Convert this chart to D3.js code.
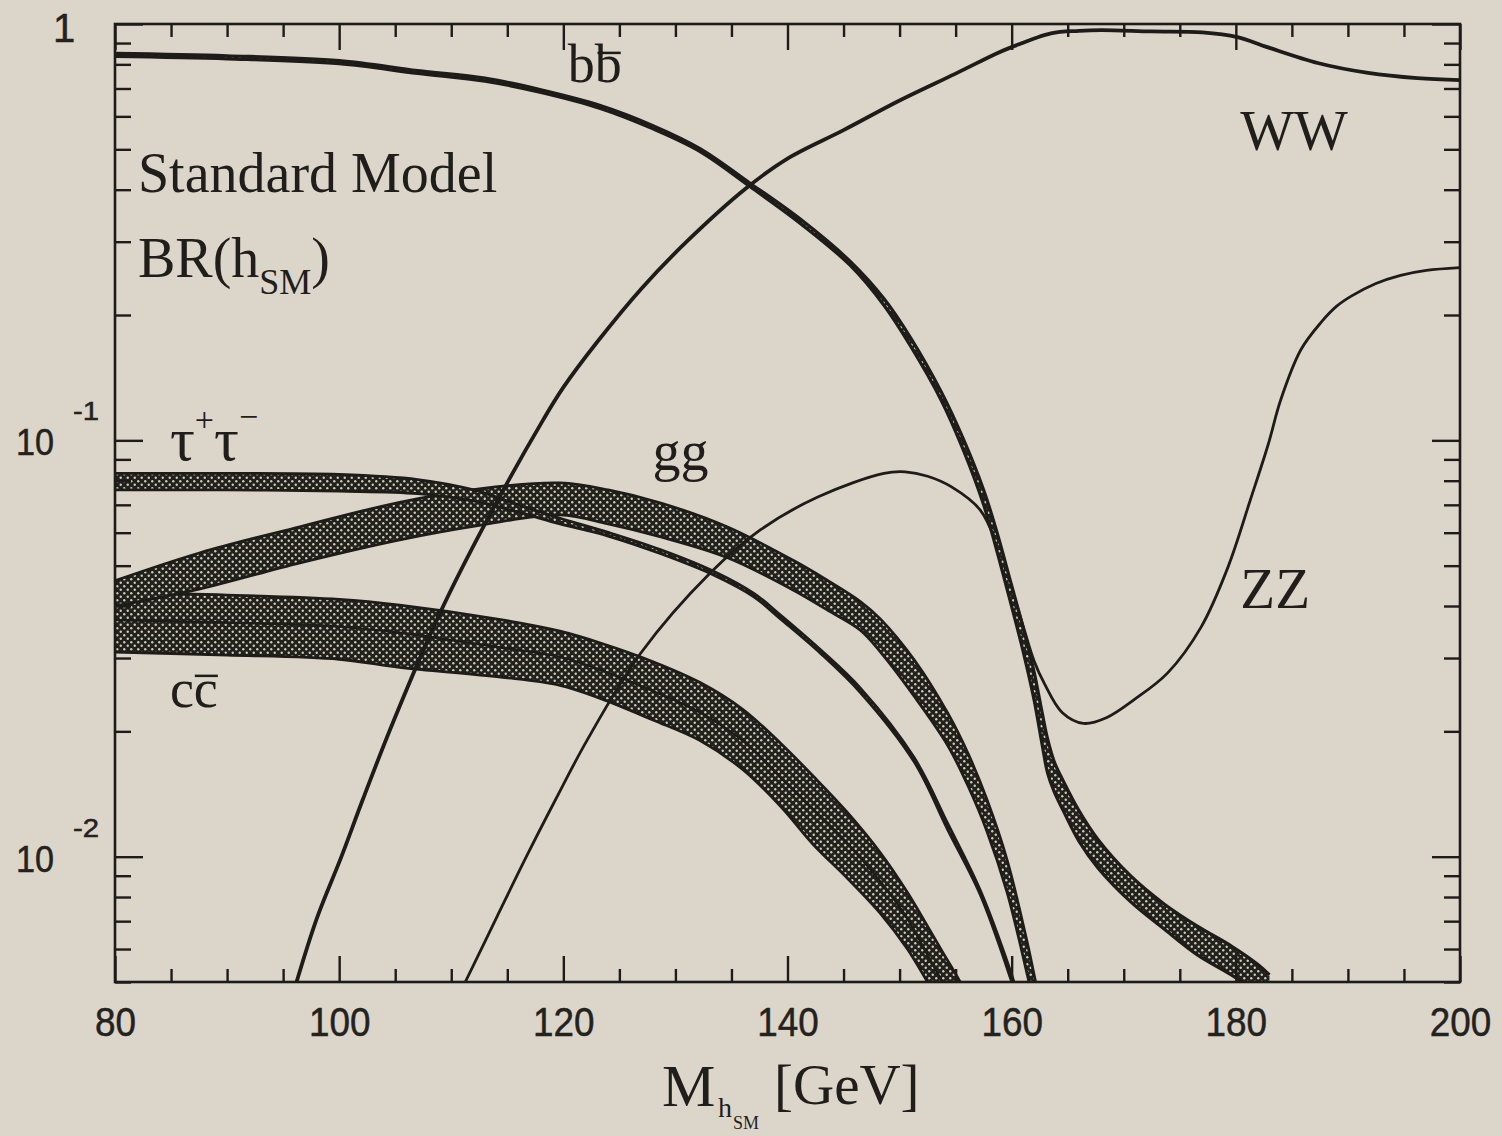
<!DOCTYPE html>
<html>
<head>
<meta charset="utf-8">
<script src="https://cdnjs.cloudflare.com/ajax/libs/d3/7.8.5/d3.min.js"></script>
<style>
  body { margin: 0; background: #dcd5ca; }
  svg { display: block; }
  .num { font-family: 'Liberation Sans', 'DejaVu Sans', sans-serif; fill: #23221d; stroke: #23221d; stroke-width: 0.5; }
  .serif { font-family: 'Liberation Serif', 'DejaVu Serif', serif; fill: #1f1e1a; }
</style>
</head>
<body>
<svg id="chart" width="1502" height="1136"></svg>
<script>
// masses in GeV, branching ratios
const massBB = [80, 90, 100, 107, 113, 118, 123.3, 128, 132.2, 136.7, 141.2, 145.6, 148.6, 151, 153.7, 155.6, 157.5, 158.7, 159.9, 161, 162, 162.7, 163.2, 163.8, 164.6, 166, 167.7, 170.6, 173.6, 176.6, 179.6, 182, 183];
const bbHi = [.850, .839, .817, .773, .741, .695, .637, .570, .502, .414, .339, .269, .219, .176, .131, .102, .076, .060, .0458, .0357, .0278, .0223, .0192, .0169, .0152, .0129, .0110, .0090, .0077, .0068, .0061, .0055, .0052];
const bbLo = [.836, .825, .803, .761, .729, .685, .627, .560, .494, .406, .331, .263, .211, .168, .125, .096, .070, .054, .0408, .0313, .0238, .0187, .0159, .0143, .0129, .0109, .0094, .0078, .0067, .0058, .0052, .0047, .0044];

const massWW = [96, 98, 100.2, 102.1, 104.8, 109, 113.2, 118.2, 120, 123, 127, 131, 136.25, 140, 145, 150, 155, 158.75, 160, 163.5, 166, 168, 172.5, 177, 180.15, 182.8, 187.3, 191.8, 196.2, 200];
const brWW = [.0048, .0071, .0100, .0137, .0210, .0385, .0644, .112, .134, .172, .232, .300, .402, .475, .556, .655, .760, .852, .88, .95, .963, .967, .960, .955, .93, .88, .806, .763, .741, .733];

const massZZ = [111.25, 114, 116.7, 119.3, 122.1, 126.9, 133.1, 137.6, 142.7, 148.6, 150.5, 152.5, 154.6, 157.2, 158.7, 160, 161, 162, 162.9, 164.5, 166.4, 168.5, 170.9, 173.9, 176.9, 179.3, 181.3, 182.9, 184, 185.8, 187.6, 189, 190.3, 192.5, 194.7, 197, 200];
const brZZ = [.005, .0071, .0100, .0137, .0190, .0308, .0480, .0610, .0731, .0833, .0840, .0820, .0774, .0680, .0560, .0440, .0360, .0295, .0261, .0222, .0209, .0216, .0238, .0276, .0356, .0496, .0720, .0980, .125, .165, .192, .210, .222, .238, .249, .256, .260];

const massTau = [80, 90, 100, 107, 112, 116, 119.7, 124, 128.7, 133.4, 137, 139.4, 143, 146.5, 151.3, 154.3, 157.2, 159.9, 160.5];
const tauHi = [.0833, .0833, .0828, .0805, .0760, .0700, .0650, .0601, .0546, .0485, .0429, .0380, .0313, .0254, .0173, .0120, .0083, .00530, .00470];
const tauLo = [.0760, .0760, .0755, .0745, .0715, .0672, .0630, .0589, .0534, .0475, .0421, .0372, .0307, .0248, .0169, .0116, .0081, .00510, .00452];

const massGG = [80, 87.6, 96.5, 105.4, 112.5, 119.7, 124, 128.7, 134.6, 140.5, 143.5, 146.5, 148.3, 151.3, 154.3, 156.1, 157.8, 159.6, 161.4, 162, 162.5];
const ggHi = [.0460, .0537, .0620, .0710, .0765, .0790, .0760, .0707, .0620, .0515, .0462, .0410, .0372, .0297, .0221, .0177, .0137, .0098, .0062, .0052, .0045];
const ggLo = [.0400, .0440, .0508, .0577, .0625, .0662, .0630, .0586, .0523, .0437, .0392, .0350, .0310, .0243, .0185, .0148, .0115, .0082, .0052, .0044, .0038];

const massCC = [80, 90, 100, 105.4, 114.4, 119.7, 123.3, 128, 132.2, 136, 139.4, 142.3, 145.3, 148.3, 150.7, 152.5, 154, 155.4, 156.5];
const ccHi = [.0430, .0425, .0415, .0402, .0371, .0348, .0326, .0294, .0262, .0226, .0187, .0156, .0128, .0102, .0082, .0068, .0058, .0050, .0043];
const ccMid = [.0370, .0365, .0357, .0345, .0318, .0302, .0281, .0250, .0222, .0190, .0155, .0130, .0108, .0087, .0071, .0058, .0049, .0042, .0037];
const ccLo = [.0310, .0305, .0298, .0285, .0270, .0258, .0240, .0213, .0190, .0162, .0132, .0107, .0089, .0073, .0060, .0050, .0043, .0036, .0032];

const xTickValues = [80, 100, 120, 140, 160, 180, 200];
const yTickValues = [1, 0.1, 0.01];
const yTickBase = ['1', '10', '10'];
const yTickExp = ['', '-1', '-2'];

const INK = '#1d1c18';
const width = 1502, height = 1136;
const plot = { left: 115, right: 1460, top: 24, bottom: 982 };
const smooth = d3.curveCatmullRom.alpha(0.5);

function createScales() {
  let x = d3.scaleLinear().domain([80, 200]).range([plot.left, plot.right]);
  let y = d3.scaleLog().domain([0.005, 1]).range([plot.bottom, plot.top]);
  return [x, y];
}

function zip(mass, values) {
  return mass.map((m, i) => ({ m: m, v: values[i] }));
}

function zipBand(mass, lo, hi) {
  return mass.map((m, i) => ({ m: m, lo: lo[i], hi: hi[i] }));
}

function addDefs(svg) {
  let defs = svg.append('defs');
  let pattern = defs.append('pattern')
    .attr('id', 'halftone')
    .attr('patternUnits', 'userSpaceOnUse')
    .attr('width', 7)
    .attr('height', 7);
  pattern.append('rect').attr('width', 7).attr('height', 7).attr('fill', '#22211c');
  pattern.append('circle').attr('cx', 1.75).attr('cy', 1.75).attr('r', 1.2).attr('fill', '#cfc9bd');
  pattern.append('circle').attr('cx', 5.25).attr('cy', 5.25).attr('r', 1.2).attr('fill', '#cfc9bd');

  defs.append('clipPath').attr('id', 'plot-clip')
    .append('rect')
    .attr('x', plot.left).attr('y', plot.top)
    .attr('width', plot.right - plot.left).attr('height', plot.bottom - plot.top);
}

function drawBand(g, x, y, data, edgeWidth) {
  let area = d3.area()
    .x(d => x(d.m))
    .y0(d => y(d.lo))
    .y1(d => y(d.hi))
    .curve(smooth);
  g.append('path').datum(data)
    .attr('d', area)
    .attr('fill', 'url(#halftone)');
  let loLine = d3.line().x(d => x(d.m)).y(d => y(d.lo)).curve(smooth);
  let hiLine = d3.line().x(d => x(d.m)).y(d => y(d.hi)).curve(smooth);
  [loLine, hiLine].forEach(gen => {
    g.append('path').datum(data)
      .attr('d', gen)
      .attr('fill', 'none')
      .attr('stroke', INK)
      .attr('stroke-width', edgeWidth);
  });
}

function drawLine(g, x, y, data, strokeWidth) {
  let line = d3.line().x(d => x(d.m)).y(d => y(d.v)).curve(smooth);
  g.append('path').datum(data)
    .attr('d', line)
    .attr('fill', 'none')
    .attr('stroke', INK)
    .attr('stroke-width', strokeWidth)
    .attr('stroke-linejoin', 'round');
}

function drawAxes(svg, x, y) {
  let xMinor = d3.range(80, 201, 5).filter(v => v % 20 !== 0);
  let yAll = y.ticks();
  let yMinor = yAll.filter(v => !yTickValues.some(t => Math.abs(t - v) < v * 1e-6));

  let axes = [
    [d3.axisBottom(x).tickValues(xMinor).tickSize(-13), `translate(0,${plot.bottom})`],
    [d3.axisTop(x).tickValues(xMinor).tickSize(-13), `translate(0,${plot.top})`],
    [d3.axisTop(x).tickValues(xTickValues).tickSize(-26), `translate(0,${plot.top})`],
    [d3.axisLeft(y).tickValues(yMinor).tickSize(-16), `translate(${plot.left},0)`],
    [d3.axisRight(y).tickValues(yMinor).tickSize(-16), `translate(${plot.right},0)`],
    [d3.axisLeft(y).tickValues(yTickValues).tickSize(-28), `translate(${plot.left},0)`],
    [d3.axisRight(y).tickValues(yTickValues).tickSize(-28), `translate(${plot.right},0)`]
  ];
  axes.forEach(([axis, tr]) => {
    let g = svg.append('g').attr('transform', tr).call(axis.tickFormat(''));
    g.select('.domain').remove();
    g.selectAll('line').attr('stroke', INK).attr('stroke-width', 2.4);
  });

  // bottom major ticks with the numbers
  let xMajor = svg.append('g')
    .attr('transform', `translate(0,${plot.bottom})`)
    .call(d3.axisBottom(x).tickValues(xTickValues).tickSize(-26).tickPadding(25));
  xMajor.select('.domain').remove();
  xMajor.selectAll('line').attr('stroke', INK).attr('stroke-width', 2.4);
  xMajor.selectAll('text')
    .attr('class', 'num')
    .attr('font-size', 41)
    .attr('fill', null)
    .attr('textLength', d => String(d).length * 20.5)
    .attr('lengthAdjust', 'spacingAndGlyphs');

  svg.append('rect')
    .attr('x', plot.left).attr('y', plot.top)
    .attr('width', plot.right - plot.left).attr('height', plot.bottom - plot.top)
    .attr('fill', 'none').attr('stroke', INK).attr('stroke-width', 2.6);

  yTickValues.forEach((v, i) => {
    if (yTickExp[i] === '') {
      svg.append('text').attr('class', 'num')
        .attr('x', 53).attr('y', y(v) + 18)
        .attr('font-size', 40)
        .text(yTickBase[i]);
      return;
    }
    svg.append('text').attr('class', 'num')
      .attr('x', 16).attr('y', y(v) + 15)
      .attr('font-size', 36)
      .attr('textLength', 38)
      .attr('lengthAdjust', 'spacingAndGlyphs')
      .text(yTickBase[i]);
    svg.append('text').attr('class', 'num')
      .attr('x', 73).attr('y', y(v) - 20)
      .attr('font-size', 26)
      .attr('textLength', 26)
      .attr('lengthAdjust', 'spacingAndGlyphs')
      .text(yTickExp[i]);
  });
}

function addBar(svg, textSel, fromFrac, toFrac, lift) {
  let box = textSel.node().getBBox();
  let baseline = +textSel.attr('y');
  svg.append('line')
    .attr('x1', box.x + box.width * fromFrac)
    .attr('x2', box.x + box.width * toFrac)
    .attr('y1', baseline - lift)
    .attr('y2', baseline - lift)
    .attr('stroke', INK)
    .attr('stroke-width', 2.5);
}

function drawLabels(svg, x, y) {
  let serif = (mx, br, size, str) => svg.append('text')
    .attr('class', 'serif')
    .attr('x', x(mx)).attr('y', y(br))
    .attr('font-size', size)
    .text(str);

  serif(82.05, 0.395, 56, 'Standard Model');

  let br = serif(82.05, 0.2467, 56, 'BR(h');
  br.append('tspan').attr('font-size', 36).attr('dy', 17).text('SM');
  br.append('tspan').attr('dy', -17).text(')');

  let bb = serif(120.4, 0.726, 54, 'bb');
  addBar(svg, bb, 0.55, 0.98, 29);

  serif(180.4, 0.498, 57, 'WW');
  serif(127.95, 0.0849, 56, 'gg');
  serif(180.4, 0.0396, 57, 'ZZ');

  let cc = serif(84.9, 0.0229, 54, 'cc');
  addBar(svg, cc, 0.52, 1.0, 31);

  let tau = serif(84.9, 0.0897, 62, 'τ');
  tau.append('tspan').attr('font-size', 34).attr('dy', -29).text('+');
  tau.append('tspan').attr('dy', 29).text('τ');
  tau.append('tspan').attr('font-size', 34).attr('dy', -32).text('−');

  // axis title
  svg.append('text').attr('class', 'serif').attr('x', 662).attr('y', 1106).attr('font-size', 60).text('M');
  svg.append('text').attr('class', 'serif').attr('x', 718).attr('y', 1117).attr('font-size', 28).text('h');
  svg.append('text').attr('class', 'serif').attr('x', 733).attr('y', 1129).attr('font-size', 18).text('SM');
  svg.append('text').attr('class', 'serif').attr('x', 774).attr('y', 1104).attr('font-size', 57).text('[GeV]');
}

function onLoad() {
  let svg = d3.select('#chart');
  svg.append('rect').attr('width', width).attr('height', height).attr('fill', '#dcd5ca');
  addDefs(svg);
  let [x, y] = createScales();

  let curves = svg.append('g').attr('clip-path', 'url(#plot-clip)');
  drawBand(curves, x, y, zipBand(massCC, ccLo, ccHi), 2.8);
  drawLine(curves, x, y, zip(massCC, ccMid), 2.4);
  drawBand(curves, x, y, zipBand(massGG, ggLo, ggHi), 2.8);
  drawBand(curves, x, y, zipBand(massTau, tauLo, tauHi), 2.8);
  drawLine(curves, x, y, zip(massWW, brWW), 3.8);
  drawLine(curves, x, y, zip(massZZ, brZZ), 2.8);
  drawBand(curves, x, y, zipBand(massBB, bbLo, bbHi), 3.2);

  drawAxes(svg, x, y);
  drawLabels(svg, x, y);
}

window.onload = onLoad;
</script>
</body>
</html>
